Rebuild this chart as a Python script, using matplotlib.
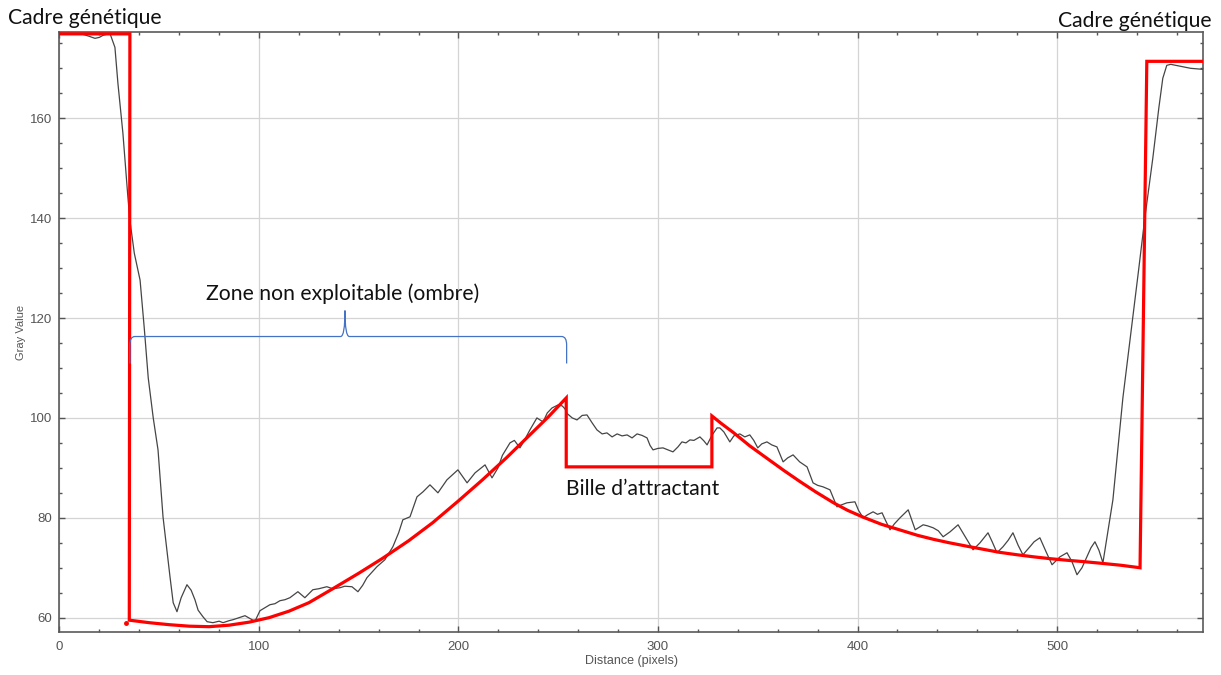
import matplotlib
matplotlib.use("Agg")
import matplotlib.pyplot as plt
import numpy as np
from matplotlib.path import Path
from matplotlib.patches import PathPatch
from matplotlib.ticker import MultipleLocator

# gray value profile
dist = [0, 6, 11.8, 15, 17.8, 20, 21.8, 25.3, 27.8, 29.3, 31.8, 34.3, 35.3, 37.5,
        40.4, 42.5, 44.5, 47, 49.4, 51.9, 55.4, 57, 58.9, 61, 63.9, 66, 67.9, 69.5,
        71.9, 74, 76.9, 80, 82, 85, 87, 90, 93, 96.5, 98, 100.5, 103, 105.5, 108,
        110.5, 113, 115.5, 119.5, 123, 127, 130, 134, 137, 140.6, 143, 146.6, 149.6,
        152, 154.1, 159.1, 163.1, 167.1, 170, 172.1, 175.7, 179.2, 182.2, 185.7,
        189.7, 194.2, 199.7, 204.3, 208.3, 213.3, 216.8, 219.8, 222, 225.8, 228,
        230.8, 233, 235.8, 239.3, 242.4, 244.5, 246.9, 249.9, 252, 253.4, 254.4,
        257, 259.4, 262, 264.4, 267, 269.4, 272, 274.4, 277, 279.5, 282, 284.5, 287,
        289.5, 292, 294.5, 296, 297.5, 300, 302.5, 305, 307.5, 310, 312, 314, 316,
        318, 321, 323, 324.6, 327, 329.6, 331, 333, 336, 338, 341, 343.5, 346, 348,
        350, 352, 354.6, 357, 359.6, 362.7, 365, 367.7, 371, 374.7, 377.7, 380,
        382.7, 386.2, 389.7, 392, 394.7, 398.7, 400.5, 402.8, 405, 407.8, 410,
        412.3, 414, 416.3, 418.5, 421.3, 425.4, 428.9, 430.5, 432.9, 435, 437.9,
        440.5, 442.9, 446.4, 450.4, 452.5, 454.9, 457.9, 461.4, 465.4, 467.5, 469.9,
        472.9, 475.5, 477.9, 480.5, 482.9, 486.4, 488.5, 491.4, 494.5, 497.5, 501.5,
        505, 507.5, 510, 512.5, 515, 517, 519, 521, 523, 528, 533, 537, 541, 544,
        548, 551, 553, 555, 557, 562, 567, 573]
gray = [177.0, 176.9, 176.8, 176.4, 176.0, 176.2, 176.6, 177.0, 174.2, 167.0, 157.0,
        144.2, 139.6, 133.0, 127.6, 118.0, 108.0, 100.0, 93.6, 80.2, 68.2, 63.0, 61.2,
        64.0, 66.6, 65.5, 63.6, 61.5, 60.2, 59.2, 59.0, 59.3, 59.0, 59.4, 59.6, 60.0,
        60.4, 59.6, 59.3, 61.4, 62.0, 62.6, 62.8, 63.4, 63.6, 64.0, 65.2, 64.0, 65.6,
        65.8, 66.2, 65.8, 66.0, 66.3, 66.2, 65.2, 66.5, 68.0, 70.2, 71.6, 74.2, 77.0,
        79.6, 80.2, 84.2, 85.2, 86.6, 85.0, 87.6, 89.6, 87.0, 89.0, 90.6, 88.0, 90.0,
        92.5, 95.0, 95.5, 94.0, 95.5, 97.6, 100.0, 99.2, 101.0, 102.0, 102.6, 102.4,
        101.8, 100.9, 100.0, 99.6, 100.5, 100.6, 99.0, 97.6, 96.8, 97.0, 96.2, 96.8,
        96.4, 96.6, 96.0, 96.8, 96.5, 96.0, 94.5, 93.6, 93.9, 94.0, 93.6, 93.2, 94.2,
        95.2, 95.0, 95.6, 95.5, 96.2, 95.4, 94.6, 96.5, 98.0, 98.0, 97.2, 95.2, 96.4,
        96.8, 96.2, 96.6, 95.5, 94.0, 94.8, 95.2, 94.6, 94.2, 91.2, 92.0, 92.6, 91.2,
        90.2, 87.0, 86.5, 86.2, 85.6, 82.2, 82.6, 83.0, 83.2, 81.5, 80.0, 80.6, 81.2,
        80.7, 81.0, 79.5, 77.6, 78.8, 80.0, 81.6, 77.6, 78.0, 78.6, 78.4, 78.0, 77.4,
        76.2, 77.2, 78.6, 77.2, 75.6, 73.6, 75.0, 77.0, 75.2, 73.0, 74.2, 75.5, 77.0,
        74.5, 72.6, 74.2, 75.2, 76.0, 73.2, 70.6, 72.2, 73.0, 71.2, 68.6, 70.0, 72.2,
        74.0, 75.2, 73.5, 71.0, 83.6, 104.0, 117.0, 130.0, 140.0, 152.0, 162.0,
        168.0, 170.6, 170.8, 170.4, 170.0, 169.8]

# hand-drawn red outline
red_x = [0, 35.3, 35.0, 45, 55, 65, 75, 85, 95, 105, 115, 125, 137, 150, 162, 175,
         187, 200, 212, 224, 235, 245, 254,
         254, 327,
         327, 332, 338, 346, 355, 363, 371, 379, 388, 395, 403, 412, 421, 430, 438,
         446, 455, 463, 471, 480, 488, 497, 505, 514, 522, 532, 541.6,
         545, 573]
red_y = [176.9, 176.9, 59.5, 59.0, 58.6, 58.3, 58.2, 58.5, 59.1, 60.0, 61.3, 63.0,
         65.8, 68.9, 71.9, 75.4, 79.0, 83.4, 87.6, 92.0, 96.3, 100.2, 104.0,
         90.2, 90.2,
         100.4, 98.8, 97.0, 94.4, 91.8, 89.5, 87.3, 85.2, 83.0, 81.5, 80.1, 78.7,
         77.6, 76.5, 75.7, 75.0, 74.3, 73.7, 73.1, 72.6, 72.2, 71.8, 71.5, 71.2,
         70.9, 70.5, 70.0,
         171.4, 171.4]

# blue brace over the shadow zone
brace_pts = [(35.3, 110.9), (35.3, 114.6), (35.3, 116.3), (37.8, 116.3),
             (140.9, 116.3), (143.1, 116.3), (143.1, 121.5),
             (143.1, 116.3), (145.3, 116.3), (251.7, 116.3),
             (254.2, 116.3), (254.2, 114.6), (254.2, 110.9)]
brace_codes = [Path.MOVETO, Path.LINETO, Path.CURVE3, Path.CURVE3,
               Path.LINETO, Path.CURVE3, Path.CURVE3,
               Path.CURVE3, Path.CURVE3, Path.LINETO,
               Path.CURVE3, Path.CURVE3, Path.LINETO]

fig = plt.figure(figsize=(12.21, 6.75), dpi=100)
ax = fig.add_axes([0.0487, 0.0633, 0.9363, 0.8889])

ax.plot(dist, gray, color='#454545', lw=0.9, zorder=3)
ax.plot(red_x, red_y, color='#ff0000', lw=2.3, solid_joinstyle='miter', zorder=4)
ax.plot([33.3], [59.0], 'o', color='#ff0000', ms=2.5, zorder=4)
ax.add_patch(PathPatch(Path(brace_pts, brace_codes), fill=False,
                       edgecolor='#4472c4', lw=0.9, zorder=4))

ax.set_xlim(0, 573)
ax.set_ylim(57.08, 177.22)
ax.xaxis.set_major_locator(MultipleLocator(100))
ax.xaxis.set_minor_locator(MultipleLocator(20))
ax.yaxis.set_major_locator(MultipleLocator(20))
ax.yaxis.set_minor_locator(MultipleLocator(5))
ax.grid(True, which='major', color='#d4d4d4', lw=0.9)
ax.set_axisbelow(True)

ax.tick_params(which='both', direction='in', top=True, right=True,
               colors='#555555', labelcolor='#555555', labelsize=9.5, pad=5)
ax.tick_params(which='major', length=4.5, width=1)
ax.tick_params(which='minor', length=2.5, width=1)
ax.tick_params(axis='x', pad=6)
for s in ax.spines.values():
    s.set_color('#5a5a5a')
    s.set_linewidth(1.2)
for lab in ax.get_xticklabels() + ax.get_yticklabels():
    lab.set_fontfamily('Liberation Sans')

ax.set_xlabel('Distance (pixels)', fontsize=9, color='#555555',
              family='Liberation Sans', labelpad=2)
ax.set_ylabel('Gray Value', fontsize=8, color='#555555',
              family='Liberation Sans', labelpad=3)

font = 'Lato'
fs = 15.2
fig.text(8 / 1221, 1 - 24 / 675, 'Cadre génétique', fontsize=fs, family=font,
         ha='left', va='baseline', color='#111111')
fig.text(1212 / 1221, 1 - 26.7 / 675, 'Cadre génétique', fontsize=fs, family=font,
         ha='right', va='baseline', color='#111111')
ax.text(141.9, 123.6, 'Zone non exploitable (ombre)', fontsize=fs, family=font,
        ha='center', va='baseline', color='#111111')
ax.text(292.5, 84.57, 'Bille d\u2019attractant', fontsize=fs, family=font,
        ha='center', va='baseline', color='#111111')

fig.savefig('out.png', dpi=100)
